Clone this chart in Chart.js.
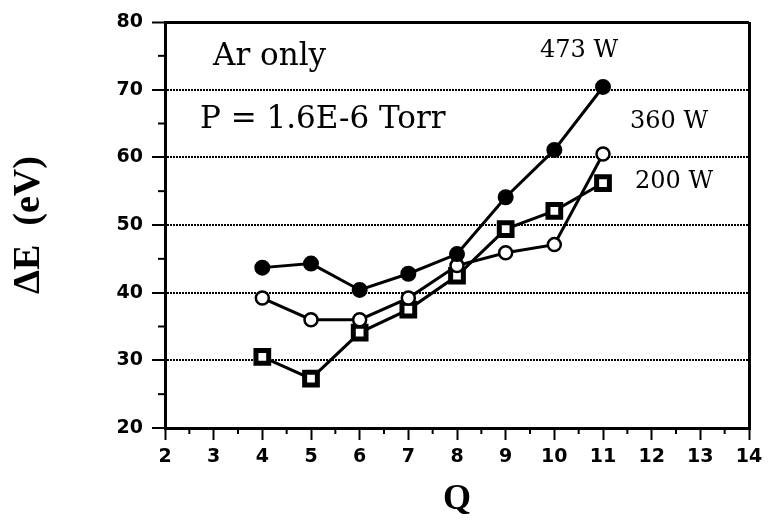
<!DOCTYPE html>
<html>
<head>
<meta charset="utf-8">
<script src="https://cdn.jsdelivr.net/npm/chart.js@4.4.1/dist/chart.umd.min.js"></script>
<style>
  html, body { margin: 0; padding: 0; background: #fff; }
  canvas { display: block; }
</style>
</head>
<body>
<canvas id="chart" width="769" height="525"></canvas>
<script>
// ── Data ───────────────────────────────────────────────────────
const qValues = [4, 5, 6, 7, 8, 9, 10, 11];
const power473 = [43.7, 44.3, 40.4, 42.8, 45.7, 54.1, 61.1, 70.4];
const power360 = [39.2, 36.0, 36.0, 39.2, 44.0, 45.9, 47.1, 60.5];
const power200 = [30.5, 27.3, 34.1, 37.5, 42.5, 49.4, 52.1, 56.2];

const xTicks = [2, 3, 4, 5, 6, 7, 8, 9, 10, 11, 12, 13, 14];
const yTicks = [20, 30, 40, 50, 60, 70, 80];

// text labels drawn inside the plot
const notes = [
  { text: 'Ar only',          x: 213, y: 65,  size: 31 },
  { text: 'P = 1.6E-6 Torr',  x: 200, y: 128, size: 31 },
  { text: '473 W',            x: 540, y: 57,  size: 24 },
  { text: '360 W',            x: 630, y: 128, size: 24 },
  { text: '200 W',            x: 635, y: 188, size: 24 },
];

const pts = ys => qValues.map((q, i) => ({ x: q, y: ys[i] }));

const makeSeries = (label, ys, style, fill, border, radius) => ({
  label,
  data: pts(ys),
  borderColor: '#000',
  borderWidth: 3,
  pointStyle: style,
  pointRadius: radius,
  pointBackgroundColor: fill,
  pointBorderColor: '#000',
  pointBorderWidth: border,
  tension: 0,
  fill: false,
});

// ── Plugin: minor ticks, annotations ───────────────────────────
const extras = {
  id: 'extras',
  beforeDraw(chart) {
    const c = chart.ctx;
    c.save();
    c.fillStyle = '#fff';
    c.fillRect(0, 0, chart.width, chart.height);
    c.restore();
  },
  afterDraw(chart) {
    const c = chart.ctx;
    const xs = chart.scales.x, ys = chart.scales.y;
    const area = chart.chartArea;
    c.save();
    c.strokeStyle = '#000';
    c.lineWidth = 2;
    // minor ticks on x (half steps)
    for (let i = 0; i < xTicks.length - 1; i++) {
      const px = xs.getPixelForValue((xTicks[i] + xTicks[i + 1]) / 2);
      c.beginPath();
      c.moveTo(px, area.bottom);
      c.lineTo(px, area.bottom + 6);
      c.stroke();
    }
    // minor ticks on y (half steps)
    for (let i = 0; i < yTicks.length - 1; i++) {
      const py = ys.getPixelForValue((yTicks[i] + yTicks[i + 1]) / 2);
      c.beginPath();
      c.moveTo(area.left - 7, py);
      c.lineTo(area.left, py);
      c.stroke();
    }
    // notes
    c.fillStyle = '#000';
    c.textBaseline = 'alphabetic';
    c.textAlign = 'left';
    notes.forEach(n => {
      c.font = `${n.size}px "DejaVu Serif"`;
      c.fillText(n.text, n.x, n.y);
    });
    c.restore();
  }
};

// ── Chart ──────────────────────────────────────────────────────
const ctx = document.getElementById('chart').getContext('2d');

new Chart(ctx, {
  type: 'line',
  data: {
    datasets: [
      makeSeries('473 W', power473, 'circle', '#000', 2, 7),
      makeSeries('360 W', power360, 'circle', '#fff', 2.5, 6.5),
      makeSeries('200 W', power200, 'rect', '#fff', 5, 9),
    ],
  },
  options: {
    responsive: false,
    animation: false,
    layout: { padding: { left: 0, right: 20, top: 22, bottom: 0 } },
    plugins: {
      legend: { display: false },
      tooltip: { enabled: false },
    },
    scales: {
      x: {
        type: 'linear',
        min: 2,
        max: 14,
        afterBuildTicks: s => { s.ticks = xTicks.map(v => ({ value: v })); },
        afterFit: s => { s.height = 97; },
        ticks: {
          color: '#000',
          font: { family: 'DejaVu Sans', size: 19, weight: 'bold' },
          padding: 6,
          maxRotation: 0,
          autoSkip: false,
        },
        grid: {
          color: c => (c.tick && c.tick.value === 14 ? '#000' : 'rgba(0,0,0,0)'),
          lineWidth: 3,
          tickColor: '#000',
          tickWidth: 2,
          tickLength: 12,
        },
        border: { color: '#000', width: 3 },
        title: {
          display: true,
          text: 'Q',
          color: '#000',
          font: { family: '"Liberation Serif"', size: 36, weight: 'bold' },
          padding: { top: 0, bottom: 4 },
        },
      },
      y: {
        min: 20,
        max: 80,
        afterBuildTicks: s => { s.ticks = yTicks.map(v => ({ value: v })); },
        afterFit: s => { s.width = 165; },
        ticks: {
          color: '#000',
          font: { family: 'DejaVu Sans', size: 19, weight: 'bold' },
          padding: 9,
        },
        grid: {
          color: c => {
            const v = c.tick && c.tick.value;
            if (v === 20) return 'rgba(0,0,0,0)';
            return '#000';
          },
          lineWidth: c => (c.tick && c.tick.value === 80 ? 3 : 2),
          tickColor: '#000',
          tickWidth: 2,
          tickLength: 13,
        },
        border: {
          color: '#000',
          width: 3,
          dash: c => (c.tick && c.tick.value === 80 ? [] : [2, 1]),
        },
        title: {
          display: true,
          text: 'ΔE  (eV)',
          color: '#000',
          font: { family: '"Liberation Serif"', size: 38, weight: 'bold' },
          padding: { top: 6, bottom: 0 },
        },
      },
    },
  },
  plugins: [extras],
});
</script>
</body>
</html>
